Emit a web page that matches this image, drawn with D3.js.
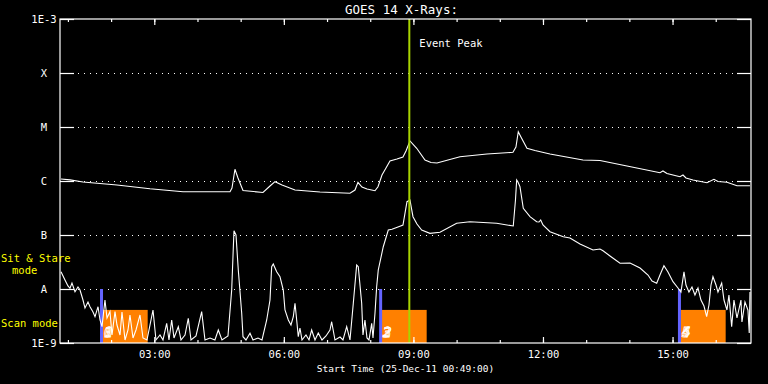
<!DOCTYPE html>
<html lang="en">
<head>
<meta charset="utf-8">
<title>GOES 14 X-Rays</title>
<script src="https://d3js.org/d3.v7.min.js"></script>
<style>
  html, body { margin: 0; padding: 0; background: #000; }
  svg { display: block; }
  text { font-family: "DejaVu Sans Mono", monospace; }
</style>
</head>
<body>
<div id="goes_chart"></div>
<script>
// time in hours UT on 25-Dec-11, flux as log10(W/m^2)
var startHour = 49 / 60;
var endHour = 16 + 49 / 60;

// long channel (1-8 A)
var longChannel = [
  [0.84, -5.963], [1.05, -5.98], [1.349, -6.019], [2.136, -6.074], [2.9, -6.143],
  [3.665, -6.198], [4.753, -6.198], [4.799, -6.13], [4.868, -5.783], [4.938, -5.944],
  [5.054, -6.176], [5.517, -6.213], [5.679, -6.093], [5.795, -6.013], [5.957, -6.074],
  [6.258, -6.167], [6.836, -6.204], [7.531, -6.228], [7.647, -6.167], [7.716, -6.024],
  [7.809, -6.111], [7.925, -6.148], [8.11, -6.18], [8.18, -6.106], [8.272, -5.889],
  [8.365, -5.759], [8.457, -5.63], [8.619, -5.593], [8.758, -5.556], [8.828, -5.444],
  [8.92, -5.259], [9.076, -5.394], [9.268, -5.611], [9.407, -5.657], [9.546, -5.667],
  [10.078, -5.55], [10.703, -5.5], [11.305, -5.469], [11.374, -5.37], [11.428, -5.087],
  [11.49, -5.185], [11.629, -5.394], [11.814, -5.435], [12.162, -5.5], [12.926, -5.611],
  [13.32, -5.62], [13.945, -5.722], [14.709, -5.846], [14.778, -5.815], [14.871, -5.861],
  [15.172, -5.92], [15.242, -5.889], [15.311, -5.944], [15.473, -5.981], [15.797, -6.031],
  [15.959, -5.969], [16.052, -6.009], [16.26, -6.024], [16.492, -6.087], [16.793, -6.087]
];

// short channel (0.5-4 A)
var shortChannel = [
  [0.84, -7.68], [0.932, -7.833], [1.001, -7.944], [1.048, -7.987], [1.094, -7.889],
  [1.164, -8.05], [1.233, -7.963], [1.28, -8.019], [1.349, -8.204], [1.395, -8.352],
  [1.465, -8.241], [1.511, -8.328], [1.581, -8.426], [1.627, -8.513], [1.697, -8.328],
  [1.743, -8.574], [1.789, -8.698], [1.858, -8.204], [1.905, -8.537], [1.974, -8.42],
  [2.021, -8.852], [2.09, -8.42], [2.136, -8.667], [2.206, -8.852], [2.252, -8.426],
  [2.322, -8.944], [2.391, -8.759], [2.437, -8.481], [2.507, -8.907], [2.576, -8.759],
  [2.669, -8.481], [2.738, -8.907], [2.831, -8.944], [2.9, -8.667], [2.97, -8.389],
  [3.039, -8.944], [3.132, -8.852], [3.201, -8.944], [3.287, -8.635], [3.34, -8.944],
  [3.403, -8.574], [3.456, -8.907], [3.556, -8.698], [3.618, -8.944], [3.711, -8.852],
  [3.787, -8.543], [3.85, -8.944], [3.966, -8.87], [4.097, -8.42], [4.174, -8.944],
  [4.29, -8.907], [4.404, -8.944], [4.482, -8.759], [4.567, -8.944], [4.706, -8.87],
  [4.792, -8.019], [4.845, -6.92], [4.892, -7.0], [4.945, -7.648], [5.024, -8.45],
  [5.054, -8.883], [5.123, -8.944], [5.216, -8.82], [5.286, -8.944], [5.401, -8.907],
  [5.494, -8.944], [5.603, -8.574], [5.679, -8.204], [5.718, -7.587], [5.755, -7.537],
  [5.834, -7.68], [5.91, -7.772], [5.987, -8.019], [6.026, -8.389], [6.103, -8.574],
  [6.165, -8.667], [6.219, -8.513], [6.258, -8.265], [6.297, -8.574], [6.334, -8.883],
  [6.373, -8.722], [6.42, -8.944], [6.512, -8.852], [6.582, -8.944], [6.644, -8.759],
  [6.721, -8.944], [6.797, -8.815], [6.883, -8.944], [6.976, -8.87], [7.068, -8.759],
  [7.107, -8.606], [7.184, -8.944], [7.3, -8.889], [7.369, -8.944], [7.455, -8.698],
  [7.531, -8.944], [7.608, -8.265], [7.686, -7.556], [7.723, -7.587], [7.802, -8.265],
  [7.832, -8.852], [7.878, -8.574], [7.925, -8.907], [7.971, -8.944], [8.034, -8.635],
  [8.064, -8.907], [8.11, -8.45], [8.149, -7.957], [8.186, -7.648], [8.302, -7.217],
  [8.418, -6.907], [8.503, -6.894], [8.642, -6.852], [8.758, -6.815], [8.851, -6.383],
  [8.92, -6.352], [8.99, -6.661], [9.082, -6.796], [9.191, -6.907], [9.383, -6.969],
  [9.615, -6.95], [10.001, -6.783], [10.309, -6.754], [10.927, -6.783], [11.312, -6.833],
  [11.363, -6.352], [11.391, -5.981], [11.421, -6.019], [11.467, -6.106], [11.544, -6.506],
  [11.699, -6.661], [11.854, -6.754], [11.908, -6.759], [11.947, -6.722], [12.0, -6.815],
  [12.162, -6.939], [12.47, -7.031], [12.625, -7.056], [12.857, -7.167], [13.158, -7.278],
  [13.32, -7.259], [13.39, -7.291], [13.552, -7.389], [13.784, -7.524], [14.015, -7.519],
  [14.247, -7.611], [14.432, -7.741], [14.525, -7.852], [14.633, -7.894], [14.709, -7.741],
  [14.801, -7.568], [14.894, -7.685], [15.01, -7.865], [15.126, -7.981], [15.195, -8.056],
  [15.265, -7.68], [15.311, -7.926], [15.38, -8.056], [15.45, -7.963], [15.519, -8.111],
  [15.589, -7.981], [15.658, -8.204], [15.728, -8.315], [15.79, -8.513], [15.843, -8.296],
  [15.89, -7.926], [15.936, -7.772], [16.006, -7.926], [16.052, -8.056], [16.138, -7.889],
  [16.191, -8.204], [16.26, -8.389], [16.306, -8.111], [16.369, -8.698], [16.422, -8.204],
  [16.492, -8.537], [16.584, -8.204], [16.607, -8.611], [16.677, -8.241], [16.746, -8.389],
  [16.776, -8.815], [16.793, -8.056]
];

// flare classes on the y axis
var classLevels = [1e-9, 1e-8, 1e-7, 1e-6, 1e-5, 1e-4, 1e-3];
var classLabels = ["1E-9", "A", "B", "C", "M", "X", "1E-3"];

// x axis ticks
var hourTicks = d3.range(1, 17);
var labelTicks = [3, 6, 9, 12, 15];

// instrument mode changes (sit & stare start, scan window)
var modeStart = [1.778, 8.241, 15.16];
var scanStart = [1.812, 8.272, 15.195];
var scanEnd = [2.847, 9.307, 16.23];
var scanTop = 4.1e-9;
var modeTop = 1e-8;
var scanNumbers = [["0", "1"], ["2", "3"], ["4", "5"]];

var eventPeak = 8.905;

var margin = {top: 19, right: 17, bottom: 41, left: 60},
    W = 768, H = 384,
    width = W - margin.left - margin.right,
    height = H - margin.top - margin.bottom;

var svg = d3.select("#goes_chart")
  .append("svg")
  .attr("width", W)
  .attr("height", H)
  .style("background", "#000");

var g = svg.append("g")
  .attr("transform", "translate(" + margin.left + "," + margin.top + ")");

var x = d3.scaleLinear().domain([startHour, endHour]).range([0, width]);
var y = d3.scaleLog().domain([1e-9, 1e-3]).range([height, 0]).clamp(true);

// dotted grid at class levels
g.selectAll("grid")
  .data(classLevels.slice(1, 6))
  .enter()
  .append("line")
    .attr("x1", 0)
    .attr("x2", width)
    .attr("y1", function(d) { return y(d) + 0.5; })
    .attr("y2", function(d) { return y(d) + 0.5; })
    .attr("stroke", "#fff")
    .attr("stroke-width", 1)
    .attr("stroke-dasharray", "1,5");

// scan mode blocks
var scans = modeStart.map(function(d, i) {
  return {start: d, s0: scanStart[i], s1: scanEnd[i], nums: scanNumbers[i]};
});

g.selectAll("scanRect")
  .data(scans)
  .enter()
  .append("rect")
    .attr("x", function(d) { return x(d.s0); })
    .attr("width", function(d) { return x(d.s1) - x(d.s0); })
    .attr("y", y(scanTop))
    .attr("height", height - y(scanTop))
    .attr("fill", "#ff8000");

g.selectAll("modeLine")
  .data(scans)
  .enter()
  .append("rect")
    .attr("x", function(d) { return x(d.start) - 1.5; })
    .attr("width", 3)
    .attr("y", y(modeTop))
    .attr("height", height - y(modeTop))
    .attr("fill", "#6464ff");

// data lines
var line = d3.line()
  .x(function(d) { return x(d[0]); })
  .y(function(d) { return y(Math.pow(10, d[1])); });

g.append("path")
  .datum(longChannel)
  .attr("d", line)
  .attr("fill", "none")
  .attr("stroke", "#fff")
  .attr("stroke-width", 1.1);

g.append("path")
  .datum(shortChannel)
  .attr("d", line)
  .attr("fill", "none")
  .attr("stroke", "#fff")
  .attr("stroke-width", 1.1);

// overlapping numbers inside scan blocks
scans.forEach(function(d) {
  d.nums.forEach(function(n) {
    g.append("text")
      .attr("x", x(d.s0) + 1)
      .attr("y", height - 6)
      .attr("fill", "none")
      .attr("stroke", "#fff")
      .attr("stroke-width", 0.8)
      .style("font-size", "14px")
      .style("font-style", "italic")
      .text(n);
  });
});

// event peak
g.append("line")
  .attr("x1", x(eventPeak))
  .attr("x2", x(eventPeak))
  .attr("y1", 0)
  .attr("y2", height)
  .attr("stroke", "#a8d400")
  .attr("stroke-width", 2);

g.append("text")
  .attr("x", x(eventPeak) + 10)
  .attr("y", 28)
  .attr("fill", "#fff")
  .style("font-size", "10.5px")
  .text("Event Peak");

// axes
function styleAxis(sel) {
  sel.select(".domain").remove();
  sel.selectAll("line").attr("stroke", "#fff").attr("stroke-width", 1.2);
  sel.selectAll("text").attr("fill", "#fff").style("font-size", "10.5px")
    .style("font-family", "DejaVu Sans Mono, monospace");
}

// bottom minor + major
g.append("g")
  .attr("transform", "translate(0," + height + ")")
  .call(d3.axisBottom(x).tickValues(hourTicks).tickSize(-3).tickFormat(""))
  .call(styleAxis);
g.append("g")
  .attr("transform", "translate(0," + height + ")")
  .call(d3.axisBottom(x).tickValues(labelTicks).tickSize(-6).tickPadding(8)
    .tickFormat(function(d) { return d3.format("02d")(d) + ":00"; }))
  .call(styleAxis);

// top minor + major
g.append("g")
  .call(d3.axisTop(x).tickValues(hourTicks).tickSize(-3).tickFormat(""))
  .call(styleAxis);
g.append("g")
  .call(d3.axisTop(x).tickValues(labelTicks).tickSize(-6).tickFormat(""))
  .call(styleAxis);

// left
var left = g.append("g")
  .call(d3.axisLeft(y).tickValues(classLevels).tickSize(-14).tickPadding(16)
    .tickFormat(function(d, i) { return classLabels[i]; }))
  .call(styleAxis);
left.selectAll("text").attr("text-anchor", "middle").attr("x", -16);

// right
g.append("g")
  .attr("transform", "translate(" + width + ",0)")
  .call(d3.axisRight(y).tickValues(classLevels).tickSize(-14).tickFormat(""))
  .call(styleAxis);

// frame
g.append("rect")
  .attr("x", 0).attr("y", 0)
  .attr("width", width).attr("height", height)
  .attr("fill", "none")
  .attr("stroke", "#fff")
  .attr("stroke-width", 1.2);

// titles
svg.append("text")
  .attr("x", margin.left + width / 2 - 4)
  .attr("y", 14)
  .attr("text-anchor", "middle")
  .attr("fill", "#fff")
  .style("font-size", "12.5px")
  .text("GOES 14 X-Rays:");

svg.append("text")
  .attr("x", margin.left + width / 2)
  .attr("y", 372)
  .attr("text-anchor", "middle")
  .attr("fill", "#fff")
  .style("font-size", "9.5px")
  .text("Start Time (25-Dec-11 00:49:00)");

// mode notes
svg.append("text").attr("x", 1).attr("y", 262).attr("fill", "#ffff00")
  .style("font-size", "10.5px").text("Sit & Stare");
svg.append("text").attr("x", 12).attr("y", 274).attr("fill", "#ffff00")
  .style("font-size", "10.5px").text("mode");
svg.append("text").attr("x", 1).attr("y", 327).attr("fill", "#ffff00")
  .style("font-size", "10.5px").text("Scan mode");
</script>
</body>
</html>
